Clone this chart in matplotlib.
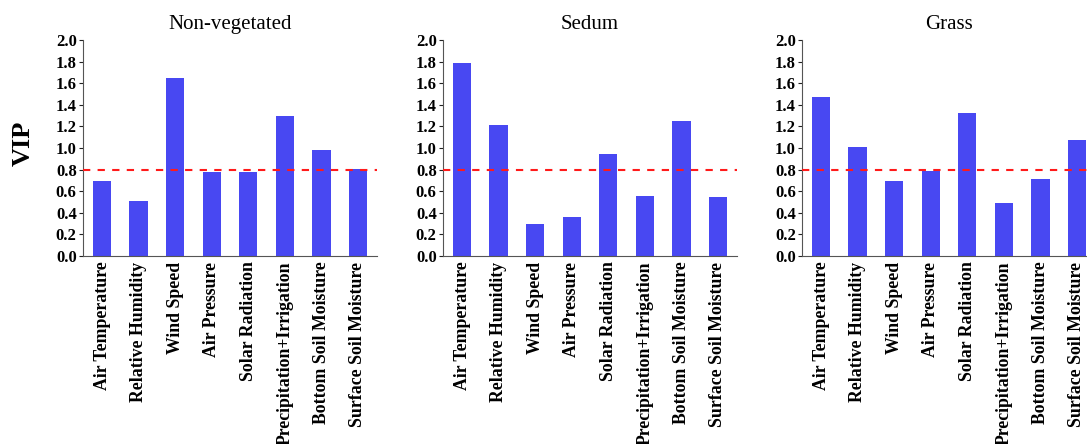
import matplotlib
matplotlib.use("Agg")
import matplotlib.pyplot as plt
import numpy as np

plt.rcParams['font.family'] = ['Liberation Serif', 'DejaVu Serif']

variables = ["Air Temperature", "Relative Humidity", "Wind Speed", "Air Pressure",
             "Solar Radiation", "Precipitation+Irrigation", "Bottom Soil Moisture",
             "Surface Soil Moisture"]
roof_types = ["Non-vegetated", "Sedum", "Grass"]
vip_nonveg = [0.69, 0.505, 1.65, 0.775, 0.775, 1.30, 0.98, 0.81]
vip_sedum = [1.79, 1.21, 0.295, 0.36, 0.945, 0.555, 1.25, 0.55]
vip_grass = [1.475, 1.01, 0.695, 0.785, 1.325, 0.495, 0.715, 1.07]
threshold = 0.8
yticks = [0.0, 0.2, 0.4, 0.6, 0.8, 1.0, 1.2, 1.4, 1.6, 1.8, 2.0]

W, H = 1087, 444
fig = plt.figure(figsize=(W / 100, H / 100), dpi=100)

bar_color = '#4848f2'
panel_left = [83, 443, 802]
panel_width = 294
bottom_px, top_px = 256, 40

x = np.arange(len(variables))
for left, title, vals in zip(panel_left, roof_types, [vip_nonveg, vip_sedum, vip_grass]):
    ax = fig.add_axes([left / W, (H - bottom_px) / H, panel_width / W, (bottom_px - top_px) / H])
    ax.bar(x, vals, width=0.5, color=bar_color, zorder=2)
    ax.axhline(threshold, color='#ff1a1a', linestyle=(0, (3.5, 3.5)), linewidth=1.5, zorder=3)
    ax.set_xlim(-0.52, len(variables) - 0.48)
    ax.set_ylim(0, 2.0)
    ax.set_yticks(yticks)
    ax.set_yticklabels([f"{v:.1f}" for v in yticks], fontsize=12, fontweight='bold')
    ax.set_xticks(x)
    ax.set_xticklabels(variables, rotation=90, fontsize=12.8, fontweight='bold')
    ax.tick_params(axis='x', length=0, pad=4)
    ax.tick_params(axis='y', length=3, width=0.8, pad=1.5, colors='#222222', labelcolor='black')
    for s in ('top', 'right'):
        ax.spines[s].set_visible(False)
    for s in ('left', 'bottom'):
        ax.spines[s].set_color('#555555')
        ax.spines[s].set_linewidth(0.8)
    ax.set_title(title, fontsize=15, pad=8)

fig.text(23 / W, (H - 143) / H, "VIP", rotation=90, fontsize=19, fontweight='bold',
         ha='center', va='center')

fig.savefig("out.png", dpi=100)
